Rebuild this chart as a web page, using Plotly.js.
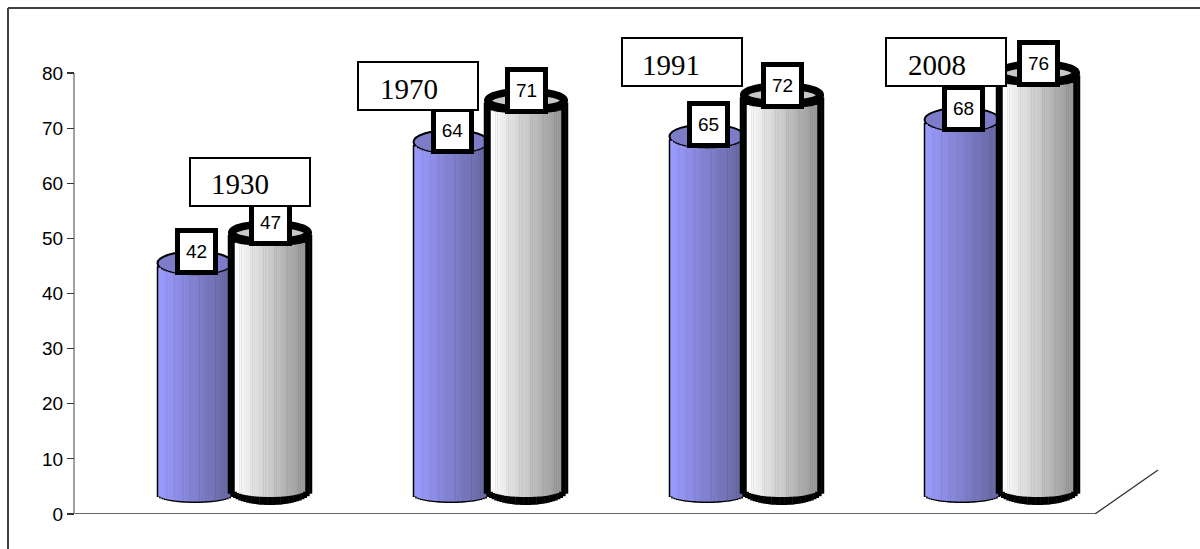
<!DOCTYPE html>
<html><head><meta charset="utf-8">
<script src="https://cdn.plot.ly/plotly-3.0.1.min.js"></script>
<style>html,body{margin:0;padding:0;background:#fff}</style></head>
<body><div id="chart" style="width:1200px;height:549px"></div>
<script>
const years = ["1930","1970","1991","2008"];
const seriesBlue = [42,64,65,68];
const seriesWhite = [47,71,72,76];
const yTicks = [0,10,20,30,40,50,60,70,80];

// layout (pixels)
const Y0 = 514, K = (514-73)/80;
const py = p => (Y0-p)/K;
const blueCx = [195,451,707,962], whiteCx = [270,526,782,1038];
const yearBoxCx = [249.5,417.5,681.5,946], yearBoxCy = [181.5,86,61.5,61.5];
const yearTextCx = [240,409,671,937], yearTextCy = [184,89,65,65];
const OFF_B = 3.5, OFF_W = 4.0;
const N = 32;

function lerp(a,b,t){return Math.round(a+(b-a)*t);}
function strips(cxs, vals, off, rx, botCy, ryTop, ryBot, c0, c1, topShift){
  const xs=[],ys=[],bs=[],cs=[]; const w=2*rx/N;
  cxs.forEach((cx,i)=>{
    for(let s=0;s<N;s++){
      const t=(s+0.5)/N, u=2*t-1, a=Math.sqrt(1-u*u);
      const base=py(botCy+ryBot*a);
      const top=vals[i]+off-(ryTop*a+topShift)/K;
      xs.push(cx-rx+w*(s+0.5)); bs.push(base); ys.push(top-base);
      cs.push(`rgb(${lerp(c0[0],c1[0],t)},${lerp(c0[1],c1[1],t)},${lerp(c0[2],c1[2],t)})`);
    }
  });
  return {type:'bar',x:xs,y:ys,base:bs,width:w+0.5,marker:{color:cs,line:{width:0}},hoverinfo:'skip',showlegend:false,cliponaxis:false};
}
const K0=[0,0,0];
const data=[
  strips(blueCx,seriesBlue,OFF_B,38,495,12,8,K0,K0,0),
  strips(blueCx,seriesBlue,OFF_B,36.5,495,10,6.5,[156,156,255],[102,102,160],2),
  strips(whiteCx,seriesWhite,OFF_W,42,490,9,15,K0,K0,0),
  strips(whiteCx,seriesWhite,OFF_W,35,490,4,7,[255,255,255],[150,150,150],9)
];
// trace that carries the y axis
data.push({type:'scatter',x:[blueCx[0]],y:[0],mode:'markers',marker:{opacity:0},hoverinfo:'skip',showlegend:false});

const shapes=[
  {type:'line',xref:'paper',yref:'paper',x0:8/1200,x1:8/1200,y0:-1,y1:py(8)/(514/K),line:{color:'#404040',width:2}},
  {type:'line',xref:'paper',yref:'paper',x0:8/1200,x1:1,y0:py(8)/(514/K),y1:py(8)/(514/K),line:{color:'#404040',width:2}},
  {type:'line',layer:'below',x0:74,x1:74,y0:0,y1:80,line:{color:'#808080',width:1.5}},
  {type:'line',layer:'below',x0:75,x1:1095,y0:0,y1:0,line:{color:'#333333',width:1.5}},
  {type:'line',layer:'below',x0:1095,x1:1158,y0:0,y1:py(470),line:{color:'#333333',width:1.3}}
];
blueCx.forEach((cx,i)=>{
  const c=seriesBlue[i]+OFF_B;
  shapes.push({type:'circle',layer:'below',x0:cx-37.5,x1:cx+37.5,y0:c-12/K,y1:c+12/K,fillcolor:'#7c7cc8',line:{color:'#000',width:2}});
});
whiteCx.forEach((cx,i)=>{
  const c=seriesWhite[i]+OFF_W;
  shapes.push({type:'circle',layer:'above',x0:cx-38.3,x1:cx+38.3,y0:c-9/K,y1:c+9/K,fillcolor:'#c8c8c8',line:{color:'#000',width:7.5}});
});

const annotations=[];
function valueLabel(x,y,t){
  annotations.push({x:x,y:y,text:String(t),showarrow:false,xanchor:'center',yanchor:'middle',
    width:33,height:37,bgcolor:'#fff',bordercolor:'#000',borderwidth:5,borderpad:0,
    font:{family:'Liberation Sans, Arial, sans-serif',size:19,color:'#000'}});
}
seriesBlue.forEach((v,i)=>valueLabel(blueCx[i]+1,v+OFF_B+2.1,v));
seriesWhite.forEach((v,i)=>valueLabel(whiteCx[i],v+OFF_W+1.8,v));
years.forEach((t,i)=>{
  annotations.push({x:yearBoxCx[i],y:py(yearBoxCy[i]),text:'\u00a0',showarrow:false,xanchor:'center',yanchor:'middle',
    width:118,height:46,bgcolor:'#fff',bordercolor:'#000',borderwidth:2,borderpad:0,font:{size:10}});
});
years.forEach((t,i)=>{
  annotations.push({x:yearTextCx[i],y:py(yearTextCy[i]),text:t,showarrow:false,xanchor:'center',yanchor:'middle',
    font:{family:'Liberation Serif, Times New Roman, serif',size:29,color:'#000'}});
});

const layout={
  width:1200,height:549,margin:{l:0,r:0,t:0,b:35,pad:0},paper_bgcolor:'#fff',plot_bgcolor:'rgba(0,0,0,0)',
  barmode:'overlay',showlegend:false,hovermode:false,
  xaxis:{range:[0,1200],visible:false,fixedrange:true},
  yaxis:{range:[0,Y0/K],anchor:'free',position:74/1200,tickmode:'array',tickvals:yTicks,ticktext:yTicks.map(String),
    showgrid:false,zeroline:false,showline:false,ticks:'outside',ticklen:7,tickwidth:1.2,tickcolor:'#333',
    tickfont:{family:'Liberation Sans, Arial, sans-serif',size:19,color:'#000'},automargin:false,fixedrange:true},
  shapes:shapes,annotations:annotations
};
Plotly.newPlot('chart',data,layout,{displayModeBar:false,staticPlot:true});
</script></body></html>
